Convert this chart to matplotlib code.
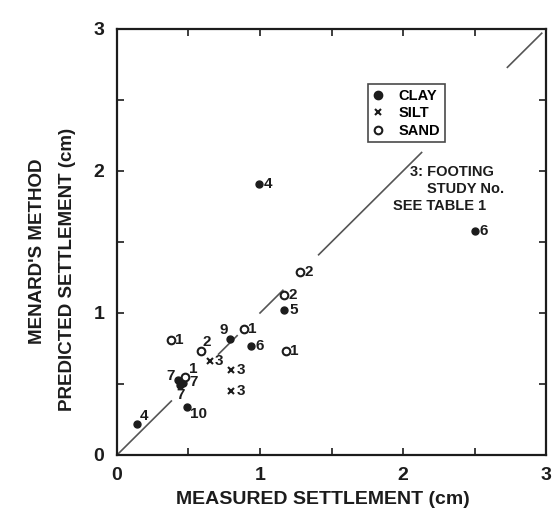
import numpy as np
import matplotlib
matplotlib.use("Agg")
import matplotlib.pyplot as plt
from matplotlib.lines import Line2D

plt.rcParams["font.family"] = ["Liberation Sans", "DejaVu Sans"]
plt.rcParams["font.weight"] = "bold"

INK = "#1c1c1c"

# Data (measured, predicted, footing study no.)
clay_x = [0.14, 0.99, 1.17, 2.50, 0.94, 0.79, 0.49, 0.43, 0.46, 0.44]
clay_y = [0.22, 1.91, 1.02, 1.58, 0.77, 0.82, 0.34, 0.53, 0.51, 0.49]
clay_lab = ["4", "4", "5", "6", "6", "9", "10", "7", "7", "7"]

silt_x = [0.65, 0.80, 0.80]
silt_y = [0.66, 0.60, 0.45]
silt_lab = ["3", "3", "3"]

sand_x = [0.38, 0.59, 0.89, 1.18, 1.17, 1.28, 0.475]
sand_y = [0.81, 0.73, 0.89, 0.73, 1.13, 1.29, 0.55]
sand_lab = ["1", "2", "1", "1", "2", "2", "1"]

# label placement (pixel offsets from the point, horizontal alignment)
clay_off = [(3, 8, "left"), (5, 0, "left"), (5, 0, "left"), (5, 0, "left"),
            (4, 0, "left"), (-6, 9, "center"), (3, -7, "left"),
            (-8, 4, "center"), (11, 1, "center"), (1, -10, "center")]
silt_off = [(5, 0, "left")] * 3
sand_off = [(4, 0, "left"), (5, 9, "center"), (4, 0, "left"), (4, 0, "left"),
            (4, 0, "left"), (4, 0, "left"), (8, 8, "center")]

# pieces of the 1:1 line that are visible between the labels
line_pieces = [(0.0, 0.38), (0.71, 0.84), (1.0, 1.16), (1.41, 2.13), (2.73, 2.97)]

note_lines = ["3: FOOTING", "STUDY No.", "SEE TABLE 1"]
note_x = [2.05, 2.17, 1.93]
note_y = [1.99, 1.87, 1.75]

fig = plt.figure(figsize=(5.55, 5.13), dpi=100)
ax = fig.add_axes([0.2108, 0.1131, 0.7730, 0.8304])

for a, b in line_pieces:
    ax.plot([a, b], [a, b], color="#555555", lw=1.2, zorder=1)

ax.plot(clay_x, clay_y, "o", color=INK, ms=5, zorder=3)
ax.plot(silt_x, silt_y, "x", color=INK, ms=5, mew=1.5, zorder=3)
ax.plot(sand_x, sand_y, "o", mfc="white", mec=INK, ms=5.5, mew=1.5, zorder=3)

def put_labels(xs, ys, labs, offs):
    for x, y, t, (dx, dy, ha) in zip(xs, ys, labs, offs):
        ax.annotate(t, (x, y), xytext=(dx, dy), textcoords="offset pixels",
                    ha=ha, va="center", fontsize=11, fontweight="bold", color=INK)

put_labels(clay_x, clay_y, clay_lab, clay_off)
put_labels(silt_x, silt_y, silt_lab, silt_off)
put_labels(sand_x, sand_y, sand_lab, sand_off)

ax.set_xlim(0, 3)
ax.set_ylim(0, 3)
ticks = np.arange(0, 3.01, 0.5)
labels = ["0", "", "1", "", "2", "", "3"]
ax.set_xticks(ticks)
ax.set_xticklabels(labels)
ax.set_yticks(ticks)
ax.set_yticklabels(labels)
ax.tick_params(direction="in", length=5, width=1.2, top=True, right=True,
               labelsize=14, colors=INK, pad=9)
for s in ax.spines.values():
    s.set_linewidth(1.6)
    s.set_color(INK)

ax.set_xlabel("MEASURED SETTLEMENT (cm)", fontsize=14, fontweight="bold",
              color=INK, labelpad=2)
ax.xaxis.set_label_coords(0.48, -0.085)
fig.text(0.067, 0.51, "MENARD'S METHOD", rotation=90, ha="center", va="center",
         fontsize=13.5, fontweight="bold", color=INK)
fig.text(0.122, 0.475, "PREDICTED SETTLEMENT (cm)", rotation=90, ha="center",
         va="center", fontsize=13.5, fontweight="bold", color=INK)

# legend box
handles = [
    Line2D([], [], marker="o", ls="none", color=INK, ms=6),
    Line2D([], [], marker="x", ls="none", color=INK, ms=5, mew=1.5),
    Line2D([], [], marker="o", ls="none", mfc="white", mec=INK, ms=5.5, mew=1.5),
]
leg = ax.legend(handles, ["CLAY", "SILT", "SAND"], loc="upper left",
                bbox_to_anchor=(0.585, 0.87), frameon=True, fancybox=False,
                handlelength=0.8, handletextpad=1.0, labelspacing=0.25,
                borderpad=0.3, borderaxespad=0,
                prop={"size": 10.5, "weight": "bold"})
leg.get_frame().set_edgecolor(INK)
leg.get_frame().set_linewidth(1.2)

for t, x, y in zip(note_lines, note_x, note_y):
    ax.text(x, y, t, ha="left", va="center", fontsize=10.5,
            fontweight="bold", color=INK)

fig.savefig("out.png", dpi=100)
